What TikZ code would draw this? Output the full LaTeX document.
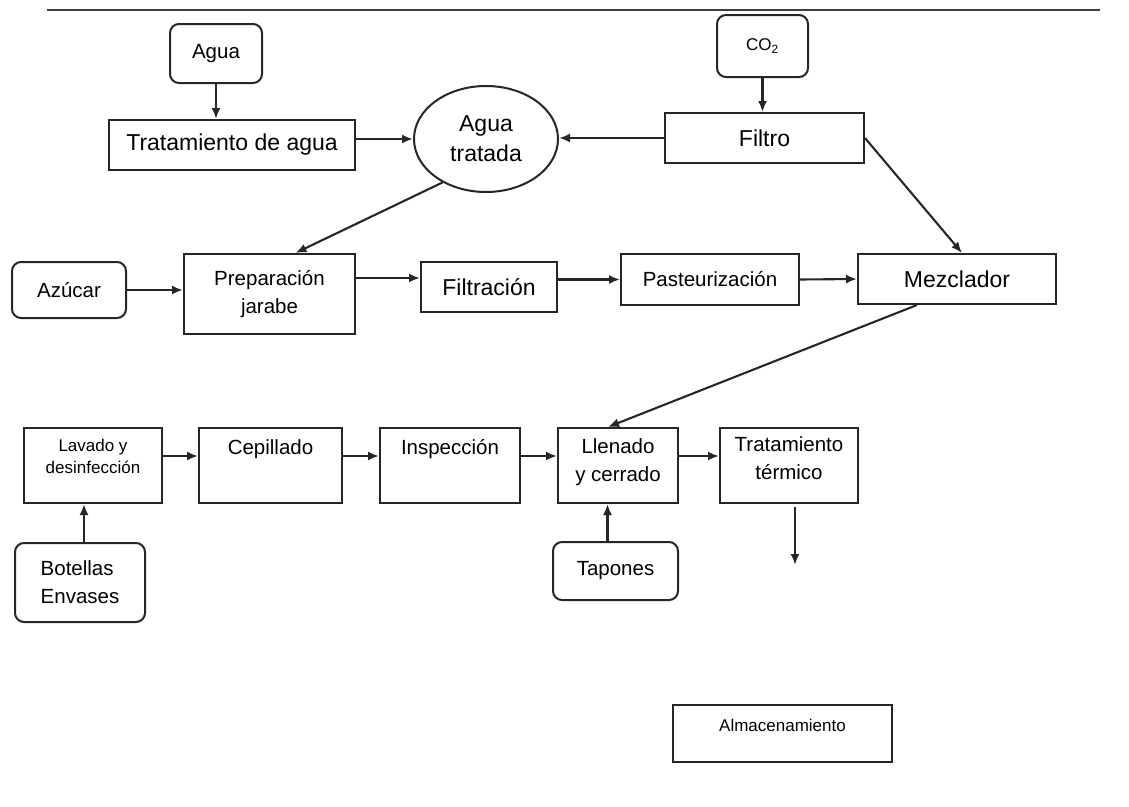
\documentclass[tikz,border=0pt]{standalone}
\usepackage{fontspec}
\setmainfont{Liberation Sans}
\usetikzlibrary{arrows.meta,shapes.geometric}
\newcommand{\tgrande}{\fontsize{23}{30}\selectfont}
\newcommand{\tmedia}{\fontsize{20.5}{28}\selectfont}
\newcommand{\tchica}{\fontsize{17}{22}\selectfont}
\begin{document}
\begin{tikzpicture}[x=1pt,y=-1pt,
    caja/.style={draw=black!85,line width=2pt,rectangle,inner sep=0pt,align=center},
    redonda/.style={caja,rounded corners=9pt},
    flecha/.style={draw=black!85,line width=2.1pt,-{Latex[length=11pt,width=9pt]}},
    arriba/.style 2 args={text height=#1,text depth=#2}]
\useasboundingbox (0,0) rectangle (1129,806);
\draw[line width=2pt,black!75] (47,10) -- (1100,10);
\node[redonda,minimum width=92pt,minimum height=59pt,font=\tmedia] (agua) at (216,53.5) {Agua};
\node[redonda,minimum width=91pt,minimum height=62pt,font=\tchica] (co2) at (762.5,46) {CO\textsubscript{2}};
\node[caja,minimum width=246pt,minimum height=50pt,font=\tgrande] (trat) at (232,145) {Tratamiento de agua};
\node[caja,minimum width=199pt,minimum height=50pt,font=\tgrande] (filtro) at (764.5,138) {Filtro};
\node[caja,ellipse,minimum width=144pt,minimum height=106pt,font=\tgrande] (tratada) at (486,139) {Agua\\tratada};
\node[redonda,minimum width=114pt,minimum height=56pt,font=\tmedia] (azucar) at (69,290) {Azúcar};
\node[caja,minimum width=171pt,minimum height=80pt,font=\tmedia] (prep) at (269.5,294) {Preparación\\jarabe};
\node[caja,minimum width=136pt,minimum height=50pt,font=\tgrande] (filtracion) at (489,287) {Filtración};
\node[caja,minimum width=178pt,minimum height=51pt,font=\tmedia] (pasteur) at (710,279.5) {Pasteurización};
\node[caja,minimum width=198pt,minimum height=50pt,font=\tgrande] (mezclador) at (957,279) {Mezclador};
\node[caja,minimum width=138pt,arriba={45pt}{30pt},font=\tchica] (lavado) at (93,465.5) {Lavado y\\desinfección};
\node[caja,minimum width=143pt,arriba={26.5pt}{48.5pt},font=\tmedia] (cepillado) at (270.5,465.5) {Cepillado};
\node[caja,minimum width=140pt,arriba={26.5pt}{48.5pt},font=\tmedia] (inspeccion) at (450,465.5) {Inspección};
\node[caja,minimum width=120pt,arriba={53pt}{22pt},font=\tmedia] (llenado) at (618,465.5) {Llenado\\y cerrado};
\node[caja,minimum width=138pt,arriba={51.5pt}{23.5pt},font=\tmedia] (termico) at (789,465.5) {Tratamiento\\térmico};
\node[redonda,minimum width=130pt,minimum height=79pt,align=left,font=\tmedia] (botellas) at (80,582.5) {Botellas\\Envases};
\node[redonda,minimum width=125pt,minimum height=58pt,font=\tmedia] (tapones) at (615.5,571) {Tapones};
\node[caja,minimum width=219pt,arriba={26pt}{31pt},font=\tchica] (almacen) at (782.5,733.5) {Almacenamiento};
\coordinate (f1) at ([yshift=9pt]filtracion.west);
\coordinate (salida) at ([xshift=6pt,yshift=-61pt]termico.south);
\draw[flecha] (agua.south) -- (agua.south |- trat.north);
\draw[flecha] (trat.east |- tratada.west) -- (tratada.west);
\draw[flecha] (filtro.west) -- (filtro.west -| tratada.east);
\draw[flecha] (co2.south) -- (co2.south |- filtro.north);
\draw[flecha] (filtro.east) -- ([xshift=5pt]mezclador.north);
\draw[flecha] (tratada.-135) -- ([xshift=26pt]prep.north);
\draw[flecha] (azucar.east) -- (azucar.east -| prep.west);
\draw[flecha] (prep.east |- f1) -- (f1);
\draw[flecha] (pasteur.west -| filtracion.east) -- (pasteur.west);
\draw[flecha] (pasteur.east) -- (mezclador.west);
\draw[flecha] ([xshift=-40pt]mezclador.south) -- ([xshift=-10pt]llenado.north);
\draw[flecha] ([yshift=9.5pt]lavado.east) -- ([yshift=9.5pt]cepillado.west);
\draw[flecha] ([yshift=9.5pt]cepillado.east) -- ([yshift=9.5pt]inspeccion.west);
\draw[flecha] ([yshift=9.5pt]inspeccion.east) -- ([yshift=9.5pt]llenado.west);
\draw[flecha] ([yshift=9.5pt]llenado.east) -- ([yshift=9.5pt]termico.west);
\draw[flecha] ([xshift=4pt]botellas.north) -- ([xshift=4pt]botellas.north |- lavado.south);
\draw[flecha] ([xshift=-8pt]tapones.north) -- ([xshift=-8pt]tapones.north |- llenado.south);
\draw[flecha] ([xshift=6pt,yshift=-3pt]termico.south) -- (salida);
\end{tikzpicture}
\end{document}
